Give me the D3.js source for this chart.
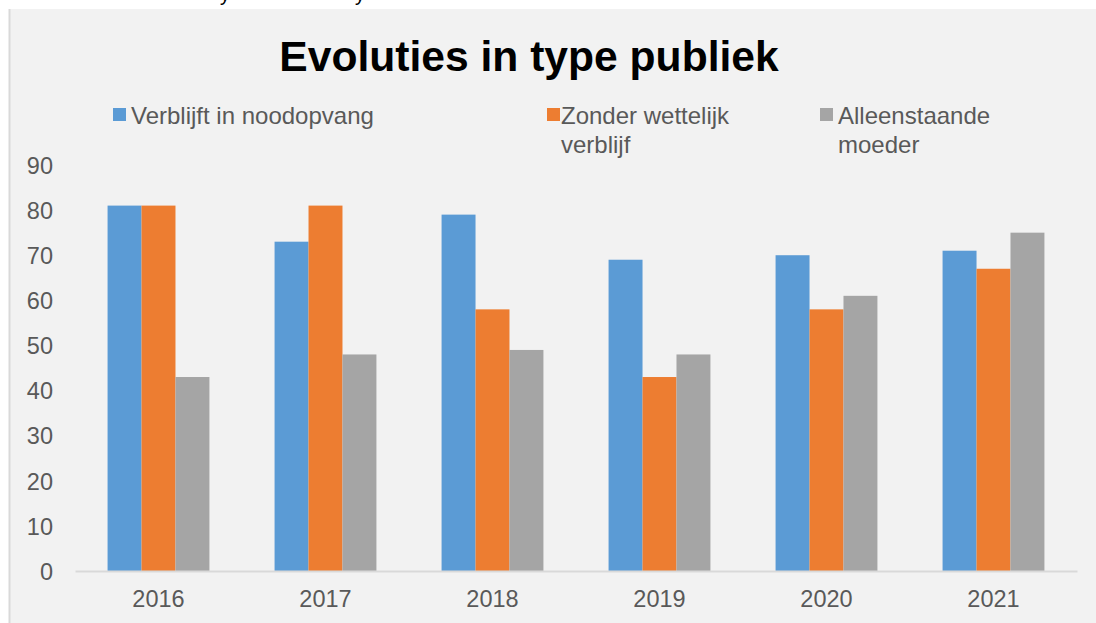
<!DOCTYPE html>
<html><head><meta charset="utf-8">
<script src="https://cdn.jsdelivr.net/npm/d3@7"></script>
<style>body{margin:0;background:#fff;} svg{display:block;font-family:"Liberation Sans",Arial,sans-serif;}</style>
</head><body>
<svg id="c" width="1096" height="623"></svg>
<script>
const years = ["2016","2017","2018","2019","2020","2021"];
const seriesNames = [["Verblijft in noodopvang"],["Zonder wettelijk","verblijf"],["Alleenstaande","moeder"]];
const noodopvang = [81,73,79,69,70,71];
const zonderVerblijf = [81,81,58,43,58,67];
const alleenstaande = [43,48,49,48,61,75];
const colors = ["#5b9bd5","#ed7d31","#a5a5a5"];
const yTicks = [0,10,20,30,40,50,60,70,80,90];
const title = "Evoluties in type publiek";

const svg = d3.select("#c");
svg.append("rect").attr("x",9).attr("y",9).attr("width",1087).attr("height",614).attr("fill","#f2f2f2");
svg.append("line").attr("x1",9.5).attr("x2",9.5).attr("y1",9).attr("y2",623).attr("stroke","#d9d9d9").attr("stroke-width",2);
svg.append("text").attr("x",220).attr("y",1).attr("font-size",20).attr("fill","#000").text("y");
svg.append("text").attr("x",355).attr("y",1).attr("font-size",20).attr("fill","#000").text("y");

svg.append("text").attr("x",529).attr("y",71).attr("text-anchor","middle")
  .attr("font-size",42.6).attr("font-weight","bold").attr("fill","#000").text(title);

const x0 = d3.scaleBand().domain(years).range([75,1077]).paddingInner(0.39).paddingOuter(0.195);
const x1 = d3.scaleBand().domain([0,1,2]).range([0,x0.bandwidth()]);
const y = d3.scaleLinear().domain([0,90]).range([571,165]);

const data = [noodopvang,zonderVerblijf,alleenstaande];
data.forEach((vals,si)=>{
  svg.append("g").selectAll("rect").data(vals).join("rect")
    .attr("x",(d,i)=>x0(years[i])+x1(si))
    .attr("y",d=>y(d))
    .attr("width",x1.bandwidth())
    .attr("height",d=>y(0)-y(d))
    .attr("fill",colors[si]);
});

const ya = svg.append("g").attr("transform","translate(53,0)")
  .call(d3.axisLeft(y).tickValues(yTicks).tickSize(0).tickPadding(0));
ya.select(".domain").remove();
ya.selectAll("text").attr("font-size",23.5).attr("fill","#595959").attr("font-family","Liberation Sans, Arial, sans-serif").attr("dy","0.35em");

const xa = svg.append("g").attr("transform","translate(0,571)")
  .call(d3.axisBottom(x0).tickSize(0).tickPadding(0));
xa.select(".domain").attr("stroke","#d9d9d9").attr("stroke-width",2);
xa.selectAll("text").attr("font-size",23.5).attr("fill","#595959").attr("font-family","Liberation Sans, Arial, sans-serif").attr("y",36).attr("dy",0);

const legX = [113,547,820];
seriesNames.forEach((lines,i)=>{
  svg.append("rect").attr("x",legX[i]).attr("y",108).attr("width",13).attr("height",13).attr("fill",colors[i]);
  const tx = legX[i]+(i===1?14:18);
  const t = svg.append("text").attr("x",tx).attr("y",124).attr("font-size",24).attr("fill","#595959");
  lines.forEach((l,j)=>t.append("tspan").attr("x",tx).attr("dy",j?29:0).text(l));
});
</script>
</body></html>
